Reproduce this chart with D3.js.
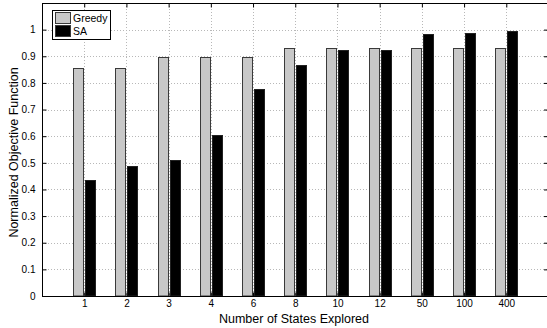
<!DOCTYPE html>
<html>
<head>
<meta charset="utf-8">
<script src="https://cdn.jsdelivr.net/npm/d3@7"></script>
<style>
  body { margin: 0; background: #fff; }
  text { font-family: Arial, "Liberation Sans", Helvetica, sans-serif; }
</style>
</head>
<body>
<div class="canvas"></div>
<script>
// data
const categories = ['1', '2', '3', '4', '6', '8', '10', '12', '50', '100', '400'];
const greedy = [0.856, 0.856, 0.899, 0.899, 0.899, 0.931, 0.931, 0.931, 0.931, 0.931, 0.931];
const sa = [0.437, 0.487, 0.512, 0.603, 0.778, 0.868, 0.924, 0.924, 0.984, 0.989, 0.995];
const seriesNames = ['Greedy', 'SA'];
const yTicks = [0, 0.1, 0.2, 0.3, 0.4, 0.5, 0.6, 0.7, 0.8, 0.9, 1];

const dims = { width: 547, height: 328 };
const plot = { left: 42, right: 548.5, top: 3, bottom: 296 };

const svg = d3.select('.canvas')
    .append('svg')
    .attr('width', dims.width)
    .attr('height', dims.height);

// x positions: 12 slots, categories at 1..11
const x = d3.scaleLinear()
    .domain([0, categories.length + 1])
    .range([plot.left, plot.right]);

const y = d3.scaleLinear()
    .domain([0, 1.1])
    .range([plot.bottom, plot.top]);

const barW = 11;

// grid lines
const grid = svg.append('g').attr('class', 'grid')
    .attr('stroke', '#b8b8b8')
    .attr('stroke-width', 1)
    .attr('stroke-dasharray', '1,2');

grid.selectAll('line.h')
    .data(yTicks.slice(1))
    .enter().append('line')
    .attr('class', 'h')
    .attr('x1', plot.left)
    .attr('x2', plot.right)
    .attr('y1', d => Math.round(y(d)) + 0.5)
    .attr('y2', d => Math.round(y(d)) + 0.5);

grid.selectAll('line.v')
    .data(categories)
    .enter().append('line')
    .attr('class', 'v')
    .attr('x1', (d, i) => Math.round(x(i + 1)) + 0.5)
    .attr('x2', (d, i) => Math.round(x(i + 1)) + 0.5)
    .attr('y1', plot.top)
    .attr('y2', plot.bottom);

// bars
const bars = svg.append('g');

bars.selectAll('rect.greedy')
    .data(greedy)
    .enter().append('rect')
    .attr('class', 'greedy')
    .attr('x', (d, i) => Math.round(x(i + 1)) - barW + 0.5)
    .attr('y', d => Math.round(y(d)) + 0.5)
    .attr('width', barW - 1)
    .attr('height', d => plot.bottom - Math.round(y(d)) - 0.5)
    .attr('fill', '#c8c8c8')
    .attr('stroke', '#3a3a3a')
    .attr('stroke-width', 1);

bars.selectAll('rect.sa')
    .data(sa)
    .enter().append('rect')
    .attr('class', 'sa')
    .attr('x', (d, i) => Math.round(x(i + 1)) + 1.5)
    .attr('y', d => Math.round(y(d)) + 0.5)
    .attr('width', barW - 1)
    .attr('height', d => plot.bottom - Math.round(y(d)) - 0.5)
    .attr('fill', '#000')
    .attr('stroke', '#222')
    .attr('stroke-width', 1);

// axes (ticks inward, on all four sides)
const leftAxis = d3.axisLeft(y)
    .tickValues(yTicks)
    .tickFormat(d3.format('~g'))
    .tickSizeInner(-4)
    .tickSizeOuter(0)
    .tickPadding(7);

svg.append('g')
    .attr('transform', `translate(${plot.left + 0.5},0)`)
    .call(leftAxis)
    .call(g => g.select('.domain').remove())
    .call(g => g.selectAll('text').attr('font-size', 10).attr('fill', '#000'));

svg.append('g')
    .attr('transform', `translate(${plot.right - 0.5},0)`)
    .call(d3.axisRight(y).tickValues(yTicks).tickSizeInner(-4).tickSizeOuter(0).tickFormat(''))
    .call(g => g.select('.domain').remove());

const bottomAxis = d3.axisBottom(x)
    .tickValues(d3.range(1, categories.length + 1))
    .tickFormat(d => categories[d - 1])
    .tickSizeInner(-4)
    .tickSizeOuter(0)
    .tickPadding(3.5);

svg.append('g')
    .attr('transform', `translate(0,${plot.bottom + 0.5})`)
    .call(bottomAxis)
    .call(g => g.select('.domain').remove())
    .call(g => g.selectAll('text').attr('font-size', 10).attr('fill', '#000'));

svg.append('g')
    .attr('transform', `translate(0,${plot.top + 0.5})`)
    .call(d3.axisTop(x).tickValues(d3.range(1, categories.length + 1)).tickSizeInner(-4).tickSizeOuter(0).tickFormat(''))
    .call(g => g.select('.domain').remove());

// frame
svg.append('rect')
    .attr('x', plot.left + 0.5)
    .attr('y', plot.top + 0.5)
    .attr('width', plot.right - plot.left - 1)
    .attr('height', plot.bottom - plot.top)
    .attr('fill', 'none')
    .attr('stroke', '#000')
    .attr('stroke-width', 1);

// axis labels
svg.append('text')
    .attr('x', 294)
    .attr('y', 322.5)
    .attr('text-anchor', 'middle')
    .attr('font-size', 12.5)
    .text('Number of States Explored');

svg.append('text')
    .attr('transform', `translate(17.5,${(plot.top + plot.bottom) / 2 + 3}) rotate(-90)`)
    .attr('text-anchor', 'middle')
    .attr('font-size', 12.5)
    .text('Normalized Objective Function');

// legend
const legend = svg.append('g').attr('transform', 'translate(52.5,10.5)');
legend.append('rect')
    .attr('width', 58)
    .attr('height', 29)
    .attr('fill', '#fff')
    .attr('stroke', '#000');

const legendColors = ['#c8c8c8', '#000'];
const items = legend.selectAll('g.item')
    .data(seriesNames)
    .enter().append('g')
    .attr('class', 'item')
    .attr('transform', (d, i) => `translate(3,${2 + i * 13})`);

items.append('rect')
    .attr('width', 15)
    .attr('height', 11)
    .attr('fill', (d, i) => legendColors[i])
    .attr('stroke', '#3a3a3a');

items.append('text')
    .attr('x', 17.5)
    .attr('y', 9.5)
    .attr('font-size', 10.5)
    .text(d => d);
</script>
</body>
</html>
